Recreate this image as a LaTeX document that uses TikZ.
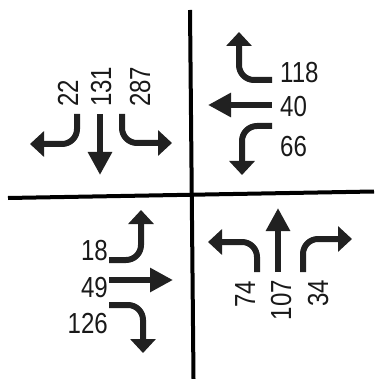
\documentclass[tikz,border=0pt]{standalone}
\usepackage{fontspec}
\newfontfamily\narrowsans[FakeStretch=0.83]{Liberation Sans}
\usetikzlibrary{arrows.meta}
\begin{document}
\begin{tikzpicture}[x=1pt,y=-1pt,
  axisline/.style={line width=4pt, black},
  mv/.style={line width=6pt, draw=black!87, rounded corners=15pt},
  turnarr/.style={mv, -{Triangle[length=14pt,width=25pt]}},
  thruarr/.style={mv, -{Triangle[length=23pt,width=23pt]}},
  lbl/.style={font=\narrowsans\fontsize{29}{29}\selectfont, inner sep=0pt, text=black!90},
]
\useasboundingbox (0,0) rectangle (374,379);
% axes
\coordinate (vt) at (190,10);
\coordinate (vb) at (193.5,379);
\coordinate (hl) at (8,198);
\coordinate (hr) at (374,191.5);
\draw[axisline] (vt) -- (vb);
\draw[axisline] (hl) -- (hr);

% NW quadrant (southbound)
\coordinate (s22) at (77,114);  \coordinate (e22) at (30,144);
\coordinate (s131) at (100,114); \coordinate (e131) at (100,175);
\coordinate (s287) at (122,114); \coordinate (e287) at (172,143);
\draw[turnarr] (s22) |- (e22);
\draw[thruarr] (s131) -- (e131);
\draw[turnarr] (s287) |- (e287);
\node[lbl, rotate=90, anchor=base west] (n22) at (78,107) {22};
\node[lbl, rotate=90, anchor=base west] (n131) at (111,107) {131};
\node[lbl, rotate=90, anchor=base west] (n287) at (150,107) {287};

% NE quadrant (westbound)
\coordinate (s118) at (272,80);  \coordinate (e118) at (239,32);
\coordinate (s40) at (272,105);  \coordinate (e40) at (208,105);
\coordinate (s66) at (272,126);  \coordinate (e66) at (242,175);
\draw[turnarr] (s118) -| (e118);
\draw[thruarr] (s40) -- (e40);
\draw[turnarr] (s66) -| (e66);
\node[lbl, anchor=base west] (n118) at (280,83) {118};
\node[lbl, anchor=base west] (n40) at (280,117) {40};
\node[lbl, anchor=base west] (n66) at (280,157) {66};

% SW quadrant (eastbound)
\coordinate (s18) at (109,260);  \coordinate (e18) at (141,210);
\coordinate (s49) at (109,280);  \coordinate (e49) at (173,280);
\coordinate (s126) at (109,305); \coordinate (e126) at (143,353);
\draw[turnarr] (s18) -| (e18);
\draw[thruarr] (s49) -- (e49);
\draw[turnarr] (s126) -| (e126);
\node[lbl, anchor=base east] (n18) at (108,260) {18};
\node[lbl, anchor=base east] (n49) at (108,297) {49};
\node[lbl, anchor=base east] (n126) at (108,333) {126};

% SE quadrant (northbound)
\coordinate (s74) at (257,272);  \coordinate (e74) at (208,242);
\coordinate (s107) at (278,272); \coordinate (e107) at (278,208);
\coordinate (s34) at (303,272);  \coordinate (e34) at (352,239);
\draw[turnarr] (s74) |- (e74);
\draw[thruarr] (s107) -- (e107);
\draw[turnarr] (s34) |- (e34);
\node[lbl, rotate=90, anchor=base east] (n74) at (255,281) {74};
\node[lbl, rotate=90, anchor=base east] (n107) at (291,280) {107};
\node[lbl, rotate=90, anchor=base east] (n34) at (328,280) {34};
\end{tikzpicture}
\end{document}
